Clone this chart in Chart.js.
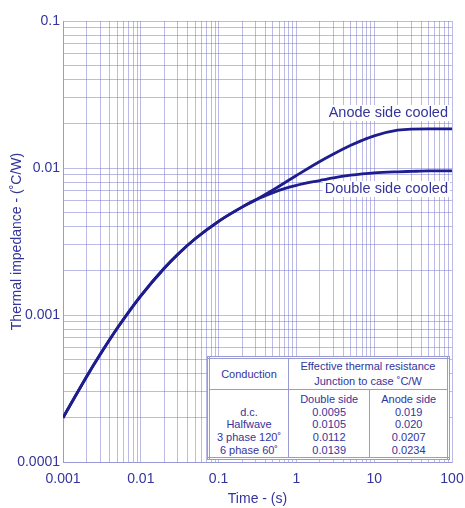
<!DOCTYPE html>
<html>
<head>
<meta charset="utf-8">
<script src="https://cdn.jsdelivr.net/npm/chart.js@4.4.1/dist/chart.umd.min.js"></script>
<style>
  html, body { margin: 0; padding: 0; background: #fff; }
  #wrap { position: relative; width: 465px; height: 508px; }
  #tbl {
    position: absolute; left: 207px; top: 356px; width: 243px; height: 102px;
    background: #fff; border: 3px double #9a9ad2; box-sizing: border-box;
    border-collapse: collapse; font-family: "Liberation Sans", Arial, sans-serif;
    font-size: 11px; color: #34349c; text-align: center;
  }
  #tbl td { border: 1px solid #9a9ad2; padding: 0; line-height: 12.7px; vertical-align: top; }
  #tbl tr.hd td { height: 30px; vertical-align: middle; line-height: 15px; }
  #tbl tr.bd td { padding-top: 3px; }
</style>
</head>
<body>
<div id="wrap">
  <canvas id="impChart" width="465" height="508"></canvas>
  <table id="tbl">
    <tr class="hd">
      <td style="width:78px">Conduction</td>
      <td colspan="2">Effective thermal resistance<br>Junction to case ˚C/W</td>
    </tr>
    <tr class="bd">
      <td id="colCond"></td>
      <td id="colDouble"></td>
      <td id="colAnode"></td>
    </tr>
  </table>
</div>
<script>
// ===== DATOS =====
const tiempo = [0.001, 0.002, 0.003, 0.005, 0.01, 0.02, 0.03, 0.05, 0.1, 0.2, 0.3, 0.5, 0.7, 1, 2, 3, 5, 7, 10, 20, 30, 50, 100];
const anodoZ = [0.0002, 0.000379, 0.000538, 0.000815, 0.00135, 0.00208, 0.00259, 0.0033, 0.00434, 0.00542, 0.00607,
                0.00708, 0.00791, 0.00889, 0.01107, 0.01245, 0.01426, 0.01542, 0.01656, 0.01807, 0.0184, 0.01845, 0.01845];
const dobleZ = [0.0002, 0.000379, 0.000538, 0.000815, 0.00135, 0.00208, 0.00259, 0.0033, 0.00434, 0.00542, 0.00607,
                0.00679, 0.00723, 0.00762, 0.00822, 0.00857, 0.00893, 0.00912, 0.00927, 0.00942, 0.00948, 0.00955, 0.00957];

const xTicks = [0.001, 0.01, 0.1, 1, 10, 100];
const xTickLabels = ['0.001', '0.01', '0.1', '1', '10', '100'];
const yTicks = [0.0001, 0.001, 0.01, 0.1];
const yTickLabels = ['0.0001', '0.001', '0.01', '0.1'];

const conduccion = ['d.c.', 'Halfwave', '3 phase 120˚', '6 phase 60˚'];
const resDoble = ['0.0095', '0.0105', '0.0112', '0.0139'];
const resAnodo = ['0.019', '0.020', '0.0207', '0.0234'];

// ===== TABLA =====
document.getElementById('colCond').innerHTML = '&nbsp;<br>' + conduccion.join('<br>');
document.getElementById('colDouble').innerHTML = 'Double side<br>' + resDoble.join('<br>');
document.getElementById('colAnode').innerHTML = 'Anode side<br>' + resAnodo.join('<br>');

// ===== GRÁFICO =====
const azul = '#34349c';
const curva = '#1d1d8e';
const rejilla = 'rgba(120,120,205,0.5)';
const fuente = '"Liberation Sans", Arial, sans-serif';

const logTicks = (majors) => {
    const out = [];
    for (let i = 0; i < majors.length; i++) {
        out.push(majors[i]);
        if (i < majors.length - 1) {
            for (let k = 2; k <= 9; k++) out.push(+(majors[i] * k).toPrecision(3));
        }
    }
    return out.map(v => ({ value: v }));
};

const etiqueta = (majors, labels) => (value) => {
    const i = majors.findIndex(m => Math.abs(m - value) / m < 1e-6);
    return i >= 0 ? labels[i] : '';
};

const curvasLabels = {
    id: 'curvasLabels',
    afterDatasetsDraw(chart) {
        const { ctx, chartArea } = chart;
        ctx.save();
        ctx.font = '14.5px ' + fuente;
        ctx.textAlign = 'right';
        ctx.textBaseline = 'middle';
        const items = [
            { text: 'Anode side cooled', y: chartArea.top + 92 },
            { text: 'Double side cooled', y: chartArea.top + 168 }
        ];
        const xr = chartArea.right - 4;
        items.forEach(it => {
            const w = ctx.measureText(it.text).width;
            ctx.fillStyle = '#fff';
            ctx.fillRect(xr - w - 2, it.y - 8, w + 4, 16);
            ctx.fillStyle = azul;
            ctx.fillText(it.text, xr, it.y);
        });
        ctx.restore();
    }
};

new Chart(document.getElementById('impChart'), {
    type: 'line',
    data: {
        datasets: [{
            label: 'Anode side cooled',
            data: tiempo.map((t, i) => ({ x: t, y: anodoZ[i] })),
            borderColor: curva,
            borderWidth: 2.8,
            pointRadius: 0,
            cubicInterpolationMode: 'monotone',
            fill: false
        }, {
            label: 'Double side cooled',
            data: tiempo.map((t, i) => ({ x: t, y: dobleZ[i] })),
            borderColor: curva,
            borderWidth: 2.8,
            pointRadius: 0,
            cubicInterpolationMode: 'monotone',
            fill: false
        }]
    },
    options: {
        responsive: false,
        animation: false,
        layout: { padding: { top: 21, right: 13, left: 0, bottom: 0 } },
        plugins: { legend: { display: false }, tooltip: { enabled: false } },
        scales: {
            x: {
                type: 'logarithmic',
                min: 0.001,
                max: 100,
                afterBuildTicks: (s) => { s.ticks = logTicks(xTicks); },
                afterFit: (s) => { s.height = 46; s.paddingRight = 11; s.paddingLeft = 0; },
                grid: { color: rejilla, drawTicks: false },
                border: { color: rejilla },
                ticks: {
                    autoSkip: false, maxRotation: 0, padding: 9,
                    color: azul, font: { family: fuente, size: 14 },
                    callback: etiqueta(xTicks, xTickLabels)
                },
                title: {
                    display: true, text: 'Time - (s)', color: azul,
                    font: { family: fuente, size: 14 }, padding: { top: 0, bottom: 0 }
                }
            },
            y: {
                type: 'logarithmic',
                min: 0.0001,
                max: 0.1,
                afterBuildTicks: (s) => { s.ticks = logTicks(yTicks); },
                afterFit: (s) => { s.width = 63; },
                grid: { color: rejilla, drawTicks: false },
                border: { color: rejilla },
                ticks: {
                    autoSkip: false, padding: 3,
                    color: azul, font: { family: fuente, size: 14 },
                    callback: etiqueta(yTicks, yTickLabels)
                },
                title: {
                    display: true, text: 'Thermal impedance - (˚C/W)', color: azul,
                    font: { family: fuente, size: 14 }, padding: { top: 9, bottom: 0 }
                }
            }
        }
    },
    plugins: [curvasLabels]
});
</script>
</body>
</html>
